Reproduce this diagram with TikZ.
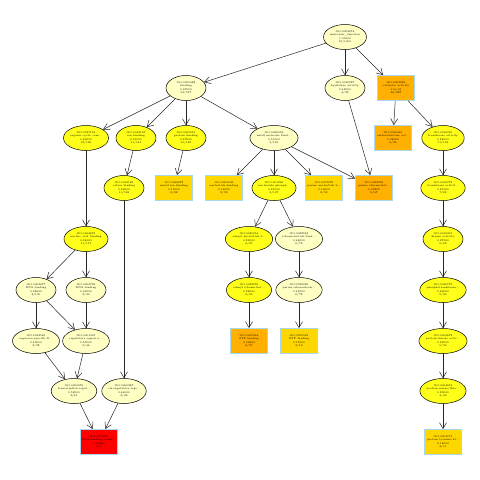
\documentclass[tikz,border=0pt]{standalone}
\usetikzlibrary{shapes.geometric,arrows.meta}
\definecolor{pale}{HTML}{FFFFC4}
\definecolor{yel}{HTML}{FFFF1A}
\definecolor{gold}{HTML}{FFD700}
\definecolor{orng}{HTML}{FFB000}
\definecolor{redx}{HTML}{FF0000}
\definecolor{bord}{HTML}{A9D8EC}
\tikzset{
  x=1pt,y=-1pt,
  term/.style={ellipse,draw=black,line width=0.5pt,minimum width=40pt,minimum height=25pt,inner sep=0pt,align=center,font=\fontsize{2.6}{3.3}\selectfont},
  pterm/.style={term,fill=pale},
  yterm/.style={term,fill=yel},
  sbox/.style={rectangle,draw=bord,line width=0.8pt,minimum width=37pt,minimum height=25pt,inner sep=0pt,align=center,font=\fontsize{2.6}{3.3}\selectfont},
  gbox/.style={sbox,fill=gold},
  obox/.style={sbox,fill=orng},
  rbox/.style={sbox,fill=redx},
  edge/.style={draw=black!85,line width=0.5pt,-{Straight Barb[length=6pt,width=7pt]}}
}
\begin{document}
\begin{tikzpicture}
\useasboundingbox[fill=white] (0,0) rectangle (480,480);
% row 1
\node[pterm] (A) at (345,37) {GO:0003674\\molecular\_function\\1.00000\\91/1000};
% row 2
\node[pterm] (B) at (186,88) {GO:0005488\\binding\\0.97000\\54/577};
\node[pterm] (C) at (345,88) {GO:0016787\\hydrolase activity\\0.43000\\4/33};
\node[obox] (D) at (396,88) {GO:0003824\\catalytic activity\\1.0e-01\\36/287};
% row 3
\node[yterm] (E) at (86,138) {GO:0097159\\organic cyclic com...\\0.23000\\12/136};
\node[yterm] (F) at (136,138) {GO:0043167\\ion binding\\0.31000\\11/141};
\node[yterm] (G) at (186,138) {GO:0005515\\protein binding\\0.27000\\10/125};
\node[pterm] (H) at (274,138) {GO:0036094\\small molecule bind...\\0.51000\\9/135};
\node[obox] (I) at (393,138) {GO:0016491\\oxidoreductase act...\\0.08100\\6/35};
\node[yterm] (J) at (443,138) {GO:0016740\\transferase activity\\0.22000\\11/134};
% row 4
\node[yterm] (K) at (124,188) {GO:0043169\\cation binding\\0.26000\\11/126};
\node[gbox] (L) at (174,188) {GO:0046872\\metal ion binding\\0.15000\\8/88};
\node[gbox] (M) at (224,188) {GO:0000166\\nucleotide binding\\0.14000\\9/99};
\node[yterm] (N) at (274,188) {GO:1901265\\nucleoside phosph...\\0.21000\\9/107};
\node[gbox] (O) at (324,188) {GO:0017076\\purine nucleotide b...\\0.16000\\8/90};
\node[obox] (P) at (374,188) {GO:0032555\\purine ribonucleot...\\0.05800\\8/67};
\node[yterm] (Q) at (443,188) {GO:0016772\\transferase activit...\\0.21000\\7/82};
% row 5
\node[yterm] (R) at (86,239) {GO:0003676\\nucleic acid binding\\0.24000\\11/117};
\node[yterm] (S) at (249,239) {GO:0030554\\adenyl nucleotide b...\\0.23000\\6/67};
\node[pterm] (T) at (299,239) {GO:0032553\\ribonucleotide bind...\\0.48000\\6/79};
\node[yterm] (U) at (443,239) {GO:0016301\\kinase activity\\0.27000\\5/62};
% row 6
\node[pterm] (V) at (36,290) {GO:0003677\\DNA binding\\0.38000\\8/100};
\node[pterm] (W) at (86,290) {GO:0003723\\RNA binding\\0.65000\\3/40};
\node[yterm] (X) at (249,290) {GO:0032559\\adenyl ribonucleot...\\0.22000\\6/65};
\node[pterm] (Y) at (299,290) {GO:0035639\\purine ribonucleosi...\\0.47000\\6/78};
\node[yterm] (Z) at (443,290) {GO:0016773\\phosphotransferase...\\0.26000\\5/60};
% row 7
\node[pterm] (AA) at (36,341) {GO:0043565\\sequence-specific D...\\0.49000\\3/38};
\node[pterm] (AB) at (86,341) {GO:0001067\\regulatory region n...\\0.57000\\3/44};
\node[obox] (AC) at (249,341) {GO:0005524\\ATP binding\\0.06500\\6/57};
\node[gbox] (AD) at (299,341) {GO:0005525\\GTP binding\\0.17000\\2/13};
\node[yterm] (AE) at (443,341) {GO:0004672\\protein kinase activ...\\0.23000\\5/56};
% row 8
\node[pterm] (AF) at (74,391) {GO:0000976\\transcription regul...\\0.52000\\3/41};
\node[pterm] (AG) at (124,391) {GO:0000987\\cis-regulatory regi...\\0.44000\\3/36};
\node[yterm] (AH) at (443,391) {GO:0004674\\protein serine/thre...\\0.29000\\4/49};
% row 9
\node[rbox] (AI) at (99,442) {GO:0001228\\DNA-binding transc...\\0.00240\\3/5};
\node[gbox] (AJ) at (443,442) {GO:0004713\\protein tyrosine ki...\\0.12000\\2/11};
% edges
\foreach \s/\t in {A/B,A/C,A/D,B/E,B/F,B/G,B/H,D/I,D/J,C/P,F/K,G/L,H/M,H/N,H/O,H/P,
  J/Q,E/R,K/AG,N/S,N/T,S/X,T/Y,X/AC,Y/AD,Q/U,U/Z,Z/AE,AE/AH,AH/AJ,
  R/V,R/W,V/AA,V/AB,W/AB,AA/AF,AB/AF,AF/AI,AG/AI}
  \draw[edge] (\s) -- (\t);
\end{tikzpicture}
\end{document}
